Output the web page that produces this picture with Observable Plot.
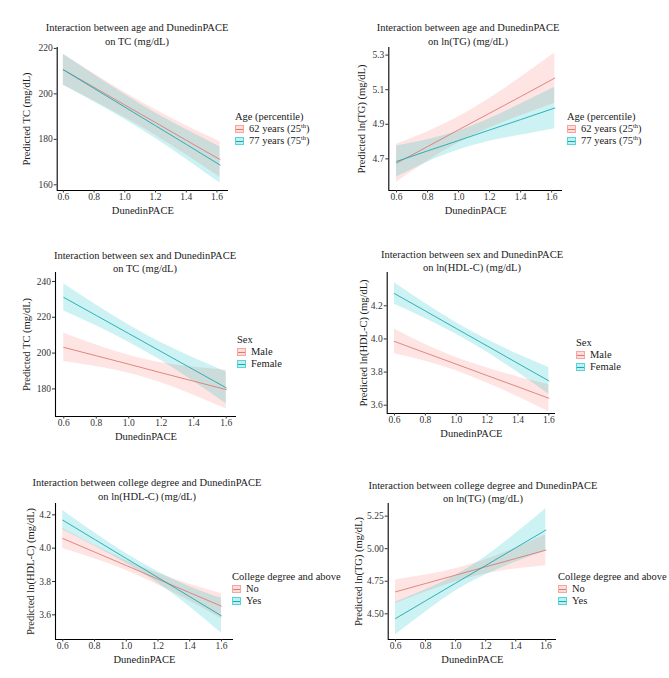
<!DOCTYPE html>
<html><head><meta charset="utf-8">
<script src="https://cdn.jsdelivr.net/npm/d3@7"></script>
<script src="https://cdn.jsdelivr.net/npm/@observablehq/plot@0.6"></script>
<style>
body{margin:0;background:#fff;font-family:"Liberation Serif","Times New Roman",serif;}
#root{position:relative;width:669px;height:678px;overflow:hidden;background:#fff;}
.ptitle{position:absolute;transform:translateX(-50%);text-align:center;font-size:10.5px;line-height:13.5px;color:#1a1a1a;white-space:nowrap;}
.legend{position:absolute;font-size:10.5px;color:#1a1a1a;white-space:nowrap;}
.legend .row{height:12px;line-height:12px;display:flex;align-items:center;}
.legend .key{width:9px;height:8px;margin-right:5px;position:relative;box-sizing:border-box;}
.legend .key i{position:absolute;left:0;right:0;top:3px;height:1px;}
.legend sup{font-size:6.5px;line-height:0;vertical-align:baseline;position:relative;top:-3.5px;}
.pl{position:absolute;}
.pl svg{overflow:visible;}
.pl g[aria-label="x-axis label"] text,.pl g[aria-label="y-axis label"] text{font-size:10.5px;fill:#1a1a1a;}
</style></head>
<body><div id="root"></div>
<script>
// ---------- data ----------
const xTicks = [0.6, 0.8, 1.0, 1.2, 1.4, 1.6];
const xTop = [0.6, 0.8, 1.0, 1.2, 1.4, 1.62];
const xRest = [0.6, 0.8, 1.0, 1.2, 1.4, 1.6];

const ageGroups = ["62 years (25th)", "77 years (75th)"];
const sexGroups = ["Male", "Female"];
const degreeGroups = ["No", "Yes"];

// Panel 1: age x DunedinPACE on TC
const tcAgeFit62 = [210.6, 202.9, 195.1, 187.4, 179.6, 171.1];
const tcAgeLo62  = [203.8, 196.9, 189.6, 181.8, 173.2, 163.3];
const tcAgeHi62  = [217.4, 208.9, 200.6, 193.0, 186.0, 178.9];
const tcAgeFit77 = [210.6, 202.4, 194.2, 186.0, 177.8, 168.7];
const tcAgeLo77  = [203.8, 196.4, 188.7, 180.4, 171.3, 160.8];
const tcAgeHi77  = [217.4, 208.4, 199.7, 191.6, 184.3, 176.6];

// Panel 2: age x DunedinPACE on ln(TG)
const tgAgeFit62 = [4.675, 4.771, 4.868, 4.964, 5.060, 5.167];
const tgAgeLo62  = [4.565, 4.686, 4.793, 4.879, 4.950, 5.022];
const tgAgeHi62  = [4.785, 4.856, 4.943, 5.049, 5.170, 5.312];
const tgAgeFit77 = [4.685, 4.746, 4.806, 4.867, 4.927, 4.994];
const tgAgeLo77  = [4.595, 4.681, 4.751, 4.802, 4.837, 4.874];
const tgAgeHi77  = [4.775, 4.811, 4.861, 4.932, 5.017, 5.114];

// Panel 3: sex x DunedinPACE on TC
const tcSexFitM = [203.2, 198.5, 193.8, 189.0, 184.3, 179.6];
const tcSexLoM  = [195.3, 192.5, 188.8, 183.4, 176.5, 168.8];
const tcSexHiM  = [211.1, 204.5, 198.8, 194.6, 192.1, 190.4];
const tcSexFitF = [231.1, 221.0, 210.9, 200.8, 190.7, 180.6];
const tcSexLoF  = [223.5, 215.2, 206.1, 195.8, 184.1, 171.7];
const tcSexHiF  = [238.7, 226.8, 215.7, 205.8, 197.3, 189.5];

// Panel 4: sex x DunedinPACE on ln(HDL-C)
const hdlSexFitM = [3.985, 3.916, 3.848, 3.779, 3.711, 3.642];
const hdlSexLoM  = [3.910, 3.866, 3.808, 3.734, 3.651, 3.560];
const hdlSexHiM  = [4.060, 3.966, 3.888, 3.824, 3.771, 3.724];
const hdlSexFitF = [4.274, 4.169, 4.063, 3.958, 3.852, 3.747];
const hdlSexLoF  = [4.209, 4.124, 4.028, 3.920, 3.797, 3.666];
const hdlSexHiF  = [4.339, 4.214, 4.098, 3.996, 3.907, 3.828];

// Panel 5: college degree x DunedinPACE on ln(HDL-C)
const hdlDegFitNo  = [4.058, 3.977, 3.896, 3.814, 3.733, 3.652];
const hdlDegLoNo   = [3.998, 3.937, 3.866, 3.779, 3.683, 3.577];
const hdlDegHiNo   = [4.118, 4.017, 3.926, 3.849, 3.783, 3.727];
const hdlDegFitYes = [4.168, 4.053, 3.938, 3.824, 3.709, 3.594];
const hdlDegLoYes  = [4.110, 4.013, 3.908, 3.789, 3.649, 3.489];
const hdlDegHiYes  = [4.226, 4.093, 3.968, 3.859, 3.769, 3.699];

// Panel 6: college degree x DunedinPACE on ln(TG)
const tgDegFitNo  = [4.669, 4.733, 4.797, 4.861, 4.925, 4.989];
const tgDegLoNo   = [4.579, 4.668, 4.747, 4.806, 4.845, 4.870];
const tgDegHiNo   = [4.759, 4.798, 4.847, 4.916, 5.005, 5.108];
const tgDegFitYes = [4.464, 4.600, 4.736, 4.871, 5.007, 5.143];
const tgDegLoYes  = [4.339, 4.515, 4.676, 4.801, 4.897, 4.980];
const tgDegHiYes  = [4.589, 4.685, 4.796, 4.941, 5.117, 5.306];

const colors = ["#F8766D", "#00BFC4"];
const lineColors = ["#DC7C75", "#1BA9B0"];

// ---------- panels ----------
const panels = [
  {title:["Interaction between age and DunedinPACE","on TC (mg/dL)"], tcx:137, tty:21, lh:14,
   ylabel:"Predicted TC (mg/dL)", legendTitle:"Age (percentile)", groups:ageGroups,
   legendHTML:["62 years (25<sup>th</sup>)","77 years (75<sup>th</sup>)"], lx:235, ly:111,
   x:xTop, fit:[tcAgeFit62,tcAgeFit77], lo:[tcAgeLo62,tcAgeLo77], hi:[tcAgeHi62,tcAgeHi77],
   col:0, L:56.7, R:228.3, T:46.7, B:190, xd:[0.56,1.675], yd:[157.5,220.4],
   yticks:[160,180,200,220], yfmt:"d", ylo:29},
  {title:["Interaction between age and DunedinPACE","on ln(TG) (mg/dL)"], tcx:468, tty:21, lh:14,
   ylabel:"Predicted ln(TG) (mg/dL)", legendTitle:"Age (percentile)", groups:ageGroups,
   legendHTML:["62 years (25<sup>th</sup>)","77 years (75<sup>th</sup>)"], lx:567, ly:111,
   x:xTop, fit:[tgAgeFit62,tgAgeFit77], lo:[tgAgeLo62,tgAgeLo77], hi:[tgAgeHi62,tgAgeHi77],
   col:335, L:388.3, R:561.7, T:46.7, B:190, xd:[0.55,1.67], yd:[4.517,5.344],
   yticks:[4.7,4.9,5.1,5.3], yfmt:".1f", ylo:25},
  {title:["Interaction between sex and DunedinPACE","on TC (mg/dL)"], tcx:145, tty:248.5, lh:13,
   ylabel:"Predicted TC (mg/dL)", legendTitle:"Sex", groups:sexGroups,
   legendHTML:["Male","Female"], lx:237, ly:334,
   x:xRest, fit:[tcSexFitM,tcSexFitF], lo:[tcSexLoM,tcSexLoF], hi:[tcSexHiM,tcSexHiF],
   col:0, L:55, R:236, T:271.7, B:416, xd:[0.549,1.663], yd:[164.6,245],
   yticks:[180,200,220,240], yfmt:"d", ylo:27},
  {title:["Interaction between sex and DunedinPACE","on ln(HDL-C) (mg/dL)"], tcx:472, tty:247.5, lh:13,
   ylabel:"Predicted ln(HDL-C) (mg/dL)", legendTitle:"Sex", groups:sexGroups,
   legendHTML:["Male","Female"], lx:576, ly:337,
   x:xRest, fit:[hdlSexFitM,hdlSexFitF], lo:[hdlSexLoM,hdlSexLoF], hi:[hdlSexHiM,hdlSexHiF],
   col:335, L:386.7, R:555, T:271.7, B:412.7, xd:[0.553,1.643], yd:[3.55,4.401],
   yticks:[3.6,3.8,4.0,4.2], yfmt:".1f", ylo:22},
  {title:["Interaction between college degree and DunedinPACE","on ln(HDL-C) (mg/dL)"], tcx:147, tty:476, lh:14,
   ylabel:"Predicted ln(HDL-C) (mg/dL)", legendTitle:"College degree and above", groups:degreeGroups,
   legendHTML:["No","Yes"], lx:232, ly:571,
   x:xRest, fit:[hdlDegFitNo,hdlDegFitYes], lo:[hdlDegLoNo,hdlDegLoYes], hi:[hdlDegHiNo,hdlDegHiYes],
   col:0, L:55, R:232.7, T:503.3, B:639.3, xd:[0.554,1.676], yd:[3.452,4.268],
   yticks:[3.6,3.8,4.0,4.2], yfmt:".1f", ylo:23},
  {title:["Interaction between college degree and DunedinPACE","on ln(TG) (mg/dL)"], tcx:483, tty:478.5, lh:13,
   ylabel:"Predicted ln(TG) (mg/dL)", legendTitle:"College degree and above", groups:degreeGroups,
   legendHTML:["No","Yes"], lx:558, ly:571,
   x:xRest, fit:[tgDegFitNo,tgDegFitYes], lo:[tgDegLoNo,tgDegLoYes], hi:[tgDegHiNo,tgDegHiYes],
   col:335, L:387.7, R:555.7, T:503, B:639.3, xd:[0.551,1.671], yd:[4.303,5.347],
   yticks:[4.5,4.75,5.0,5.25], yfmt:".2f", ylo:28}
];

const root = document.getElementById("root");

function hexA(hex, a){
  const c = d3.color(hex); c.opacity = a; return c.formatRgb();
}

for (const p of panels) {
  const rows = [];
  p.groups.forEach((g, gi) => p.x.forEach((x, i) =>
    rows.push({x, fit: p.fit[gi][i], lo: p.lo[gi][i], hi: p.hi[gi][i], group: g})));

  const svgTop = p.T - 4, svgLeft = p.col, mR = 8, mB = 32;
  const chart = Plot.plot({
    width: Math.round(p.R - svgLeft + mR),
    height: Math.round(p.B - svgTop + mB),
    marginLeft: p.L - svgLeft, marginRight: mR, marginTop: 4, marginBottom: mB,
    style: {fontFamily: "Liberation Serif, Times New Roman, serif", fontSize: "9.5px", color: "#333", background: "transparent"},
    x: {domain: p.xd},
    y: {domain: p.yd},
    color: {domain: p.groups, range: colors},
    marks: [
      Plot.areaY(rows, {x: "x", y1: "lo", y2: "hi", z: "group", fill: "group", fillOpacity: 0.2, curve: "natural"}),
      Plot.lineY(rows, {x: "x", y: "fit", z: "group", stroke: d => lineColors[p.groups.indexOf(d.group)], strokeWidth: 0.9}),
      Plot.ruleX([p.xd[0]], {stroke: "#000", strokeWidth: 1.1}),
      Plot.ruleY([p.yd[0]], {stroke: "#000", strokeWidth: 1.1}),
      Plot.axisX({ticks: xTicks, tickFormat: d3.format(".1f"), tickSize: 2.5, tickPadding: 0.5,
        label: "DunedinPACE", labelAnchor: "center", labelArrow: "none", labelOffset: 23}),
      Plot.axisY({ticks: p.yticks, tickFormat: d3.format(p.yfmt), tickSize: 3, tickPadding: 1.5,
        label: p.ylabel, labelAnchor: "center", labelArrow: "none", labelOffset: p.ylo + 6})
    ]
  });
  const wrap = document.createElement("div");
  wrap.className = "pl";
  wrap.style.left = svgLeft + "px";
  wrap.style.top = svgTop + "px";
  wrap.appendChild(chart);
  root.appendChild(wrap);

  const t = document.createElement("div");
  t.className = "ptitle";
  t.style.left = p.tcx + "px";
  t.style.top = p.tty + "px";
  t.style.lineHeight = p.lh + "px";
  t.innerHTML = p.title.join("<br>");
  root.appendChild(t);

  const lg = document.createElement("div");
  lg.className = "legend";
  lg.style.left = p.lx + "px";
  lg.style.top = p.ly + "px";
  let html = `<div class="row">${p.legendTitle}</div>`;
  p.legendHTML.forEach((lab, i) => {
    html += `<div class="row"><span class="key" style="background:${hexA(colors[i],0.25)};border:1px solid ${hexA(colors[i],0.55)}"><i style="background:${lineColors[i]}"></i></span>${lab}</div>`;
  });
  lg.innerHTML = html;
  root.appendChild(lg);
}
</script>
</body></html>
